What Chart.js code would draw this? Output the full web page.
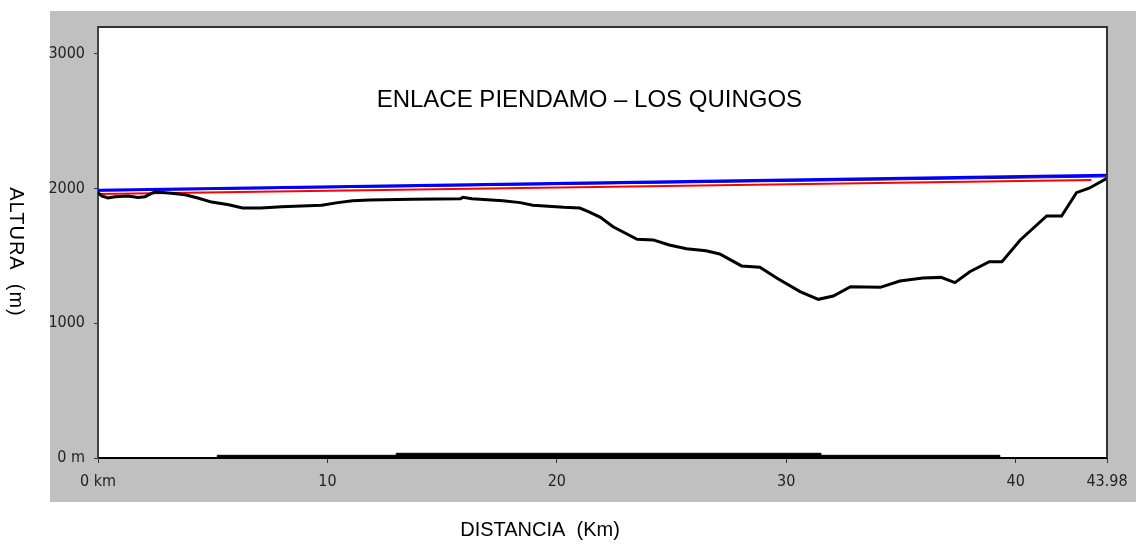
<!DOCTYPE html>
<html>
<head>
<meta charset="utf-8">
<script src="https://cdn.jsdelivr.net/npm/chart.js@4.4.1/dist/chart.umd.min.js"></script>
<style>
  body { margin: 0; background: #fff; }
</style>
</head>
<body>
<canvas id="perfil" width="1136" height="547"></canvas>
<script>
// perfil del terreno (km, m)
const distKm = [0, 0.16, 0.44, 0.74, 1.3, 1.75, 2.05, 2.4, 2.55, 3.2, 3.8, 4.35, 4.95, 5.7, 6.3, 7.1, 8.0, 9.75, 10.45, 11.1,
  11.85, 13.7, 15.8, 15.9, 16.3, 17.65, 18.4, 18.95, 20.3, 21.0, 21.4, 21.9, 22.45, 23.5, 24.2, 24.9, 25.65, 26.5, 27.1, 28.05,
  28.85, 29.6, 30.6, 31.4, 32.05, 32.8, 34.1, 34.95, 35.95, 36.75, 37.35, 38.0, 38.85, 39.4, 40.2, 41.35, 42.0, 42.65, 43.2, 43.98];
const alturaTerreno = [1970, 1945, 1930, 1940, 1945, 1935, 1940, 1970, 1975, 1965, 1955, 1930, 1900, 1880, 1856, 1856, 1866, 1876, 1896, 1910,
  1916, 1921, 1925, 1935, 1925, 1910, 1896, 1876, 1861, 1856, 1827, 1787, 1717, 1624, 1619, 1582, 1554, 1539, 1515, 1426,
  1416, 1334, 1235, 1178, 1203, 1272, 1267, 1314, 1336, 1341, 1302, 1383, 1458, 1458, 1619, 1797, 1797, 1970, 2003, 2077];

// linea de vista y lineas auxiliares
const extremosKm = [0, 43.98];
const lineaVista = [1988, 2100];
const lineaDirecta = [1982, 2087];
const rojoKm = [0, 43.3];
const lineaRoja = [1960, 2064];

// curvatura de la tierra (abajo)
const curvaKm = [0, 5.2, 5.2, 13.0, 13.0, 31.5, 31.5, 39.3, 39.3, 43.98];
const curvaM = [0, 0, 20, 20, 35, 35, 20, 20, 0, 0];

const ticksX = [0, 10, 20, 30, 40, 43.98];
const ticksY = [0, 1000, 2000, 3000];

const pts = (xs, ys) => xs.map((x, i) => ({x: x, y: ys[i]}));

const fuenteTicks = "'Liberation Sans Narrow', 'DejaVu Sans Condensed', 'Arial Narrow', sans-serif";
const fuenteTexto = "'Liberation Sans', Arial, sans-serif";

const fondo = {
  id: 'fondo',
  beforeDraw(chart) {
    const {ctx, chartArea: a} = chart;
    ctx.save();
    ctx.fillStyle = '#fff';
    ctx.fillRect(0, 0, chart.width, chart.height);
    ctx.fillStyle = '#c0c0c0';
    ctx.fillRect(50, 11, chart.width - 50, 491);
    ctx.fillStyle = '#fff';
    ctx.fillRect(a.left, a.top, a.right - a.left, a.bottom - a.top);
    ctx.restore();
  },
  afterDraw(chart) {
    const {ctx, chartArea: a} = chart;
    ctx.save();
    // borde superior y derecho
    ctx.strokeStyle = '#333';
    ctx.lineWidth = 2;
    ctx.beginPath();
    ctx.moveTo(a.left, a.top);
    ctx.lineTo(a.right, a.top);
    ctx.lineTo(a.right, a.bottom);
    ctx.stroke();

    ctx.fillStyle = '#000';
    ctx.textAlign = 'center';
    ctx.textBaseline = 'middle';
    ctx.font = '24px ' + fuenteTexto;
    ctx.fillText('ENLACE PIENDAMO – LOS QUINGOS', a.left + 0.487 * (a.right - a.left), a.top + 73);

    ctx.font = '20px ' + fuenteTexto;
    ctx.fillText('DISTANCIA  (Km)', 540, 530);

    // titulo eje y, girado
    ctx.letterSpacing = '1px';
    ctx.translate(16, 252);
    ctx.rotate(Math.PI / 2);
    ctx.fillText('ALTURA  (m)', 0, 0);
    ctx.restore();
  }
};

new Chart(document.querySelector('#perfil'), {
  type: 'line',
  data: {
    datasets: [
      {label: 'Terreno', data: pts(distKm, alturaTerreno), borderColor: '#000', borderWidth: 3, pointRadius: 0},
      {label: 'Linea de vista', data: pts(extremosKm, lineaVista), borderColor: '#0000ff', borderWidth: 3, pointRadius: 0},
      {label: 'Roja', data: pts(rojoKm, lineaRoja), borderColor: '#ff0000', borderWidth: 2, pointRadius: 0},
      {label: 'Directa', data: pts(extremosKm, lineaDirecta), borderColor: '#222', borderWidth: 1, pointRadius: 0},
      {label: 'Curvatura', data: pts(curvaKm, curvaM), borderColor: '#000', borderWidth: 1, backgroundColor: '#000', fill: 'origin', pointRadius: 0}
    ]
  },
  options: {
    responsive: false,
    animation: false,
    devicePixelRatio: 1,
    layout: {padding: {top: 27, right: 29, bottom: 0, left: 0}},
    plugins: {legend: {display: false}, tooltip: {enabled: false}},
    scales: {
      x: {
        type: 'linear', min: 0, max: 43.98,
        afterFit: s => { s.height = 89; s.paddingLeft = 0; s.paddingRight = 0; },
        afterBuildTicks: s => { s.ticks = ticksX.map(v => ({value: v})); },
        grid: {drawOnChartArea: false, tickLength: 5, color: '#333'},
        border: {color: '#000', width: 2},
        ticks: {
          autoSkip: false, maxRotation: 0, padding: 9, color: '#222',
          font: {family: fuenteTicks, size: 16},
          callback: v => v === 0 ? '0 km' : String(v)
        }
      },
      y: {
        type: 'linear', min: 0, max: 3200,
        afterFit: s => { s.width = 98; s.paddingTop = 0; s.paddingBottom = 0; },
        afterBuildTicks: s => { s.ticks = ticksY.map(v => ({value: v})); },
        grid: {drawOnChartArea: false, tickLength: 4, color: '#333'},
        border: {color: '#444', width: 2},
        ticks: {
          padding: 9, color: '#222',
          font: {family: fuenteTicks, size: 16},
          callback: v => v === 0 ? '0 m' : String(v)
        }
      }
    }
  },
  plugins: [fondo]
});
</script>
</body>
</html>
